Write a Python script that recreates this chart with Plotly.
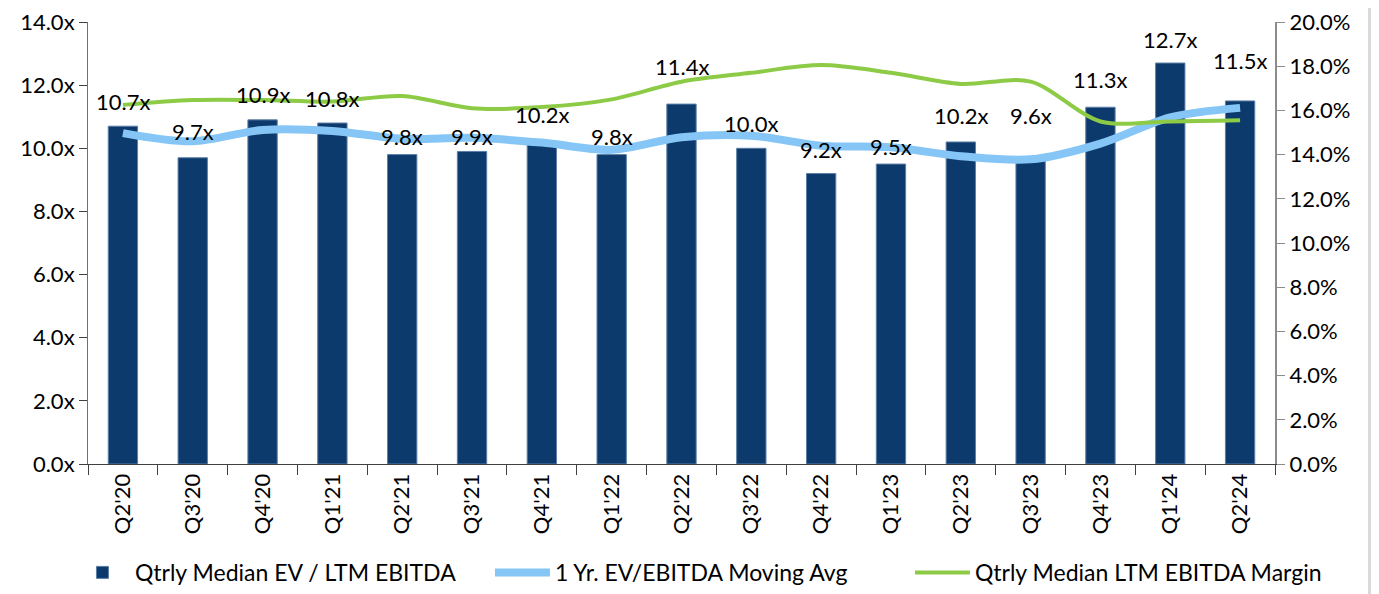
import plotly.graph_objects as go

quarters = ["Q2'20", "Q3'20", "Q4'20", "Q1'21", "Q2'21", "Q3'21", "Q4'21", "Q1'22",
            "Q2'22", "Q3'22", "Q4'22", "Q1'23", "Q2'23", "Q3'23", "Q4'23", "Q1'24", "Q2'24"]
ev_ebitda = [10.7, 9.7, 10.9, 10.8, 9.8, 9.9, 10.2, 9.8, 11.4, 10.0, 9.2, 9.5, 10.2, 9.6, 11.3, 12.7, 11.5]
moving_avg = [10.48, 10.22, 10.58, 10.55, 10.30, 10.33, 10.18, 9.95, 10.35, 10.40, 10.08, 10.03,
              9.75, 9.65, 10.15, 10.98, 11.28]
ebitda_margin = [16.25, 16.47, 16.47, 16.40, 16.65, 16.10, 16.15, 16.50, 17.30, 17.70, 18.05, 17.70,
                 17.20, 17.30, 15.50, 15.50, 15.55]
left_ticks = [0, 2, 4, 6, 8, 10, 12, 14]
right_ticks = [0, 2, 4, 6, 8, 10, 12, 14, 16, 18, 20]

# label offsets above bar tops (px) - styling only
label_shift = [25, 26, 25, 25, 18, 15, 27, 18, 38, 25, 24, 18, 26, 45, 28, 24, 40]

FONT = "Lato"

fig = go.Figure()
fig.add_trace(go.Bar(
    x=quarters, y=ev_ebitda, name="Qtrly Median EV / LTM EBITDA",
    marker=dict(color="#0d3a6c", line=dict(color="#5b7fa8", width=1)),
    yaxis="y",
))
fig.add_trace(go.Scatter(
    x=quarters, y=moving_avg, name="1 Yr. EV/EBITDA Moving Avg", mode="lines",
    line=dict(color="#85c6f6", width=8, shape="spline", smoothing=0.9),
    yaxis="y",
))
fig.add_trace(go.Scatter(
    x=quarters, y=ebitda_margin, name="Qtrly Median LTM EBITDA Margin", mode="lines",
    line=dict(color="#8dcb47", width=4, shape="spline", smoothing=0.9),
    yaxis="y2",
))

for q, v, s in zip(quarters, ev_ebitda, label_shift):
    fig.add_annotation(x=q, y=v, xref="x", yref="y", text=f"{v:.1f}x", showarrow=False,
                       yshift=s, font=dict(family=FONT, size=22, color="#000000"))

# grey page edge on the right
fig.add_shape(type="rect", xref="paper", yref="paper", x0=(1368 - 88) / 1187, x1=1.3,
              y0=-1, y1=2, fillcolor="#d9d9d9", line=dict(width=0), layer="below")

fig.update_layout(
    width=1371, height=586,
    margin=dict(l=80, r=104, t=14, b=130, autoexpand=False),
    paper_bgcolor="white", plot_bgcolor="white",
    font=dict(family=FONT, size=22, color="#000000"),
    bargap=0.58,
    showlegend=True,
    legend=dict(orientation="h", x=-0.0152, xanchor="left", y=-0.294, yanchor="bottom",
                font=dict(family=FONT, size=23), itemwidth=55, entrywidth=350,
                bgcolor="rgba(0,0,0,0)", traceorder="normal"),
    xaxis=dict(type="category", tickangle=-90, showline=True, linecolor="#404040", linewidth=1,
               ticks="outside", ticklen=10, tickcolor="#404040", tickson="boundaries",
               showgrid=False, automargin=False, tickfont=dict(family=FONT, size=22)),
    yaxis=dict(range=[0, 14], tickvals=left_ticks, ticktext=[f"{t:.1f}x" for t in left_ticks],
               showline=True, linecolor="#707070", linewidth=1, ticks="outside", ticklen=8,
               tickcolor="#404040", showgrid=False, zeroline=False, automargin=False,
               ticklabeloverflow="allow", tickfont=dict(family=FONT, size=22)),
    yaxis2=dict(range=[0, 20], tickvals=right_ticks, ticktext=[f"{t:.1f}%" for t in right_ticks],
                overlaying="y", side="right", showline=True, linecolor="#8c8c8c", linewidth=2,
                ticks="outside", ticklen=8, tickcolor="#8c8c8c", showgrid=False, zeroline=False,
                automargin=False, ticklabeloverflow="allow", tickfont=dict(family=FONT, size=22)),
)

fig.write_html("out.html")
